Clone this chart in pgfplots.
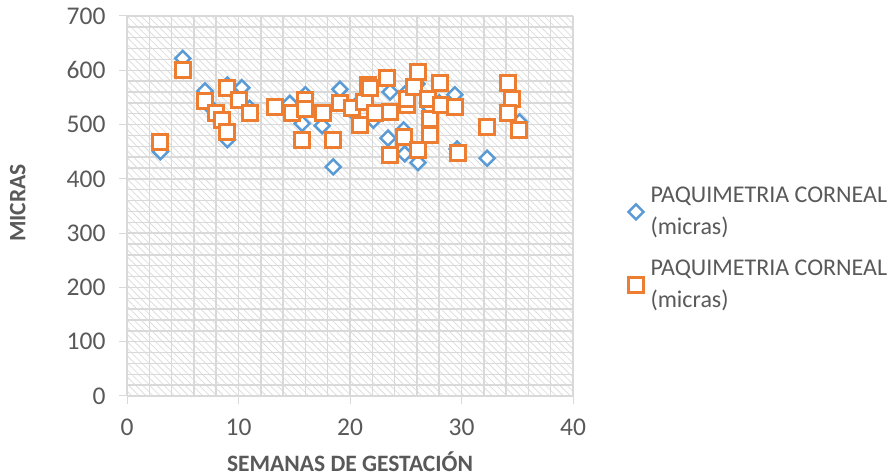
\documentclass[border=0pt]{standalone}
\usepackage{fontspec}
\setmainfont{Carlito}
\usepackage{pgfplots}
\pgfplotsset{compat=1.18}
\usetikzlibrary{patterns.meta}
\definecolor{bluem}{HTML}{5B9BD5}
\definecolor{orangem}{HTML}{ED7D31}
\definecolor{txt}{HTML}{595959}
\definecolor{gridc}{HTML}{D9D9D9}
\begin{document}
\begin{tikzpicture}[x=1bp,y=1bp]
\useasboundingbox (0,0) rectangle (895,476);
\begin{axis}[
  at={(127bp,80bp)}, anchor=south west,
  scale only axis, width=446bp, height=380bp,
  xmin=0, xmax=40, ymin=0, ymax=700,
  xtick={0,10,...,40}, ytick={0,100,...,700},
  minor xtick={2,4,...,38}, minor ytick={20,40,...,680},
  grid=both,
  major grid style={gridc, line width=1.5bp},
  minor grid style={gridc, line width=1.5bp},
  axis line style={draw=none},
  tick pos=left, tick align=outside,
  major tick length=8bp, minor tick length=0bp,
  major tick style={gridc, line width=1bp},
  axis background/.style={pattern={Lines[angle=-45,distance=5bp,line width=0.8bp]}, pattern color=black!13},
  /pgf/number format/assume math mode=true,
  ticklabel style={font=\fontsize{25.5bp}{30bp}\selectfont, text=txt},
  xticklabel style={yshift=-11bp},
  yticklabel style={xshift=-10bp},
  xlabel={\textbf{SEMANAS DE GESTACIÓN}},
  ylabel={\textbf{MICRAS}},
  label style={font=\fontsize{23.5bp}{28bp}\selectfont, text=txt},
  xlabel style={at={(axis description cs:0.5,-0.173)}, anchor=center},
  ylabel style={at={(axis description cs:-0.245,0.508)}, anchor=center, rotate=0},
  legend style={draw=none, fill=none, inner sep=0pt, at={(1.124,0.555)}, anchor=north west,
    font=\fontsize{24bp}{32bp}\selectfont, text=txt, nodes={align=left, inner sep=2bp}, row sep=20bp,
    /tikz/every odd column/.append style={column sep=5bp}},
  legend cell align=left,
  clip=false,
]
\addplot[only marks, mark=square*, mark size=5.3bp, mark options={rotate=45, draw=bluem, fill=white, line width=2.5bp}]
coordinates {
(3,450) (5,622) (7,562) (7.5,532) (9,573) (9,472) (10.3,568) (11,530)
(14.6,539) (15.7,502) (16,555) (17.5,498) (18.5,422) (19.1,565) (21,545)
(22.1,508) (23.6,560) (23.4,475) (24.8,490) (24.9,446) (26.1,430) (26,575)
(28,540) (29.4,555) (29.6,455) (32.3,438) (35.2,505) (34.2,530) (20.2,525)
(27.2,530) (25.1,560)
};
\addlegendentry{PAQUIMETRIA CORNEAL\\(micras)}
\addplot[only marks, mark=square*, mark size=7.5bp, mark options={draw=orangem, fill=white, line width=3bp}]
coordinates {
(3,467) (5,600) (7,543) (8,522) (8.5,508) (9,567) (9,487) (10,545) (11,521)
(13.3,533) (14.8,521) (15.7,472) (16,545) (16,528) (17.6,521) (18.5,471)
(19.1,539) (20.2,530) (20.9,500) (21.3,542) (21.6,573) (21.8,567) (22.2,521)
(23.3,585) (23.6,524) (23.6,444) (24.8,478) (25.1,536) (25.1,548) (25.7,570)
(26.1,597) (26.1,453) (27.0,548) (27.2,511) (27.2,481) (28.1,576) (28.2,536)
(29.4,533) (29.7,447) (32.3,496) (34.2,576) (34.5,548) (34.2,521) (35.2,490)
};
\addlegendentry{PAQUIMETRIA CORNEAL\\(micras)}
\end{axis}
\end{tikzpicture}
\end{document}
